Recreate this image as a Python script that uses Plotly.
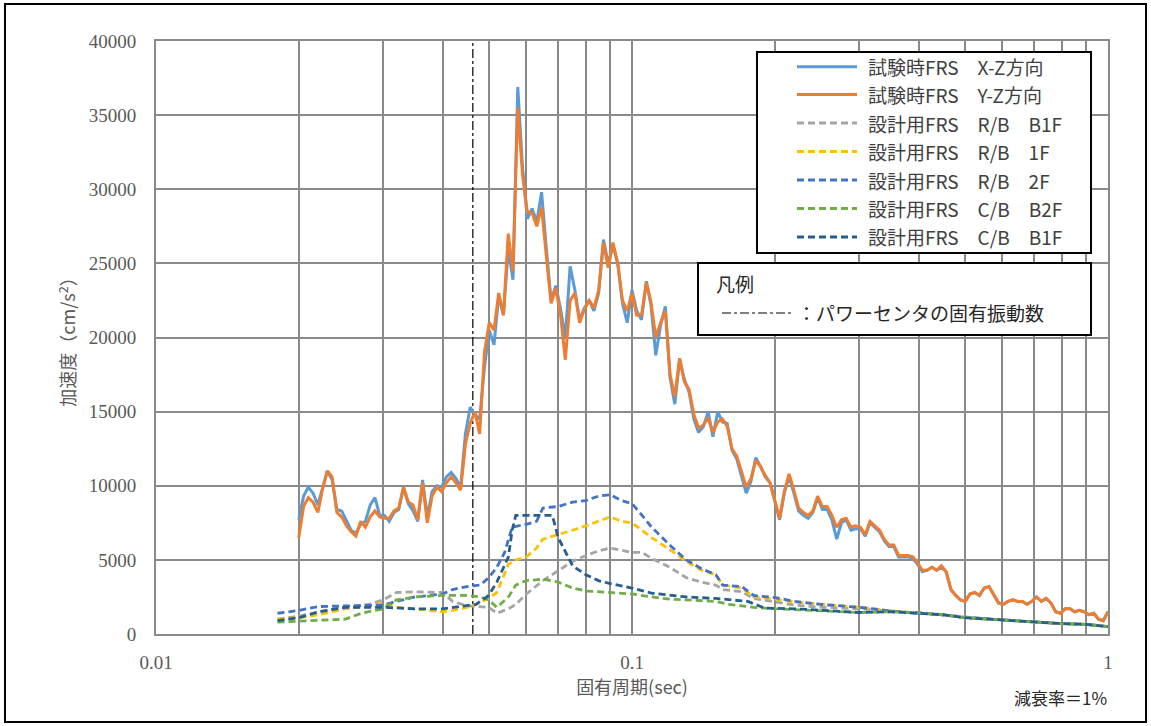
import plotly.graph_objects as go

# ---------------- data ----------------
# natural period (sec) for the test floor response spectra
period_exp = [
    0.01995, 0.02042, 0.02089, 0.02138, 0.02188, 0.02239, 0.02291, 0.02344, 0.02399, 0.02455,
    0.02512, 0.02570, 0.02630, 0.02692, 0.02754, 0.02818, 0.02884, 0.02951, 0.03020, 0.03090,
    0.03162, 0.03236, 0.03311, 0.03388, 0.03467, 0.03548, 0.03631, 0.03715, 0.03802, 0.03890,
    0.03981, 0.04074, 0.04169, 0.04266, 0.04365, 0.04467, 0.04571, 0.04677, 0.04786, 0.04898,
    0.05012, 0.05129, 0.05248, 0.05370, 0.05495, 0.05623, 0.05754, 0.05888, 0.06026, 0.06166,
    0.06310, 0.06457, 0.06607, 0.06761, 0.06918, 0.07079, 0.07244, 0.07413, 0.07586, 0.07762,
    0.07943, 0.08128, 0.08318, 0.08511, 0.08710, 0.08913, 0.09120, 0.09333, 0.09550, 0.09772,
    0.1000,
    0.1023, 0.1047, 0.1072, 0.1096, 0.1122, 0.1148, 0.1175, 0.1202, 0.1230, 0.1259,
    0.1288, 0.1318, 0.1349, 0.1380, 0.1413, 0.1445, 0.1479, 0.1514, 0.1549, 0.1585,
    0.1622, 0.1660, 0.1698, 0.1738, 0.1778, 0.1820, 0.1862, 0.1905, 0.1950, 0.1995,
    0.2042, 0.2089, 0.2138, 0.2188, 0.2239, 0.2291, 0.2344, 0.2399, 0.2455, 0.2512,
    0.2570, 0.2630, 0.2692, 0.2754, 0.2818, 0.2884, 0.2951, 0.3020, 0.3090, 0.3162,
    0.3236, 0.3311, 0.3388, 0.3467, 0.3548, 0.3631, 0.3715, 0.3802, 0.3890, 0.3981,
    0.4074, 0.4169, 0.4266, 0.4365, 0.4467, 0.4571, 0.4677, 0.4786, 0.4898, 0.5012,
    0.5129, 0.5248, 0.5370, 0.5495, 0.5623, 0.5754, 0.5888, 0.6026, 0.6166, 0.6310,
    0.6457, 0.6607, 0.6761, 0.6918, 0.7079, 0.7244, 0.7413, 0.7586, 0.7762, 0.7943,
    0.8128, 0.8318, 0.8511, 0.8710, 0.8913, 0.9120, 0.9333, 0.9550, 0.9772, 1.0000,
]

frs_xz = [
    7700, 9300, 9900, 9500, 8700, 9800, 11000, 10400, 8400, 8300,
    7600, 7000, 6800, 7400, 7600, 8700, 9200, 8000, 8000, 7600,
    8200, 8400, 9900, 8800, 8300, 7600, 10400, 7900, 9600, 10000,
    9900, 10600, 10900, 10500, 9900, 13500, 15300, 14800, 14500, 18000,
    20500, 19500, 22800, 21500, 26000, 23900, 36900, 31500, 28000, 28700,
    27800, 29800, 26000, 22500, 23500, 21900, 20000, 24800, 23200, 21200,
    22000, 22500, 21800, 23000, 26600, 25000, 26200, 25000, 22300, 21000,
    23200,
    21800, 21200, 23800, 22200, 18800, 20800, 22100, 17300, 15500, 18500,
    17200, 16300, 14500, 13600, 14000, 15000, 13300, 15000, 14300, 14200,
    12400, 11800, 10600, 9500, 10300, 11900, 11300, 10600, 10200, 9000,
    7700, 9500, 10600, 9500, 8300, 8000, 7800, 8200, 9200, 8400,
    8400, 7700, 6400, 7500, 7700, 7000, 7100, 7100, 6600, 7500,
    7200, 6900, 6300, 5900, 5900, 5200, 5200, 5200, 5100, 4700,
    4200, 4300, 4500, 4300, 4500, 4200, 3000, 2600, 2300, 2200,
    2700, 2800, 2600, 3100, 3200, 2600, 2100, 2000, 2200, 2300,
    2200, 2200, 2000, 2200, 2500, 2200, 2400, 2100, 1500, 1400,
    1700, 1700, 1500, 1600, 1500, 1300, 1400, 1000, 900, 1500,
]

frs_yz = [
    6500, 8600, 9200, 8900, 8200, 9800, 11000, 10600, 8200, 7900,
    7300, 6900, 6600, 7600, 7200, 7900, 8300, 7900, 7800, 7800,
    8300, 8500, 9900, 8900, 8700, 7700, 10200, 7500, 9300, 9900,
    9600, 10200, 10600, 10200, 9700, 12800, 14200, 15000, 13500, 19000,
    21000, 20500, 23000, 21500, 27000, 24500, 35500, 31000, 28500, 28400,
    27500, 28800, 25500, 22300, 23300, 21500, 18500, 22500, 23000, 21000,
    21900, 22500, 22000, 23200, 26400, 24700, 26400, 25000, 22500, 21800,
    23000,
    21500, 21500, 23700, 22400, 20000, 21000, 21800, 17500, 16000, 18600,
    17000, 16500, 14800, 13900, 14100, 14600, 13600, 14300, 14500, 14000,
    12500, 12000, 10900, 9900, 10500, 11700, 11300, 10700, 10200, 9100,
    7800, 9600, 10800, 9700, 8500, 8200, 8000, 8300, 9300, 8600,
    8600, 8000, 7200, 7700, 7800, 7200, 7300, 7200, 6700, 7600,
    7300, 7000, 6400, 6000, 6000, 5300, 5300, 5300, 5200, 4800,
    4300, 4300, 4500, 4300, 4600, 4200, 3000, 2600, 2300, 2200,
    2700, 2800, 2600, 3100, 3200, 2600, 2100, 2000, 2200, 2300,
    2200, 2200, 2000, 2200, 2500, 2200, 2400, 2100, 1500, 1400,
    1700, 1700, 1500, 1600, 1500, 1300, 1400, 1000, 900, 1500,
]

# design floor response spectra
period_rb_b1f = [0.018, 0.02, 0.022, 0.025, 0.028, 0.03, 0.032, 0.035, 0.04, 0.042, 0.045, 0.05,
                 0.052, 0.055, 0.057, 0.06, 0.065, 0.07, 0.075, 0.08, 0.085, 0.09, 0.1, 0.105,
                 0.11, 0.12, 0.13, 0.14, 0.15, 0.155, 0.17, 0.18, 0.2, 0.22, 0.25, 0.3, 0.35,
                 0.4, 0.45, 0.5, 0.6, 0.7, 0.8, 0.9, 1.0]
frs_rb_b1f = [1000, 1200, 1500, 1800, 2000, 2300, 2800, 2850, 2800, 2200, 1900, 1800,
              1400, 1700, 2000, 2700, 3600, 4300, 4900, 5300, 5600, 5800, 5500, 5500,
              5100, 4500, 3800, 3500, 3300, 3000, 2850, 2400, 2150, 1950, 1800, 1700, 1550,
              1400, 1300, 1150, 950, 800, 700, 650, 500]

period_rb_1f = [0.018, 0.02, 0.022, 0.025, 0.028, 0.03, 0.032, 0.035, 0.04, 0.042, 0.045, 0.047,
                0.05, 0.052, 0.055, 0.057, 0.06, 0.063, 0.065, 0.07, 0.075, 0.08, 0.085, 0.09,
                0.095, 0.1, 0.105, 0.11, 0.12, 0.13, 0.14, 0.15, 0.155, 0.17, 0.18, 0.2, 0.22,
                0.25, 0.3, 0.35, 0.4, 0.45, 0.5, 0.6, 0.7, 0.8, 0.9, 1.0]
frs_rb_1f = [1000, 1100, 1300, 1700, 1900, 2100, 1800, 1700, 1500, 1600, 1800, 2000,
             2400, 2800, 4700, 5000, 5200, 5800, 6400, 6700, 7000, 7300, 7600, 7900,
             7600, 7500, 7000, 6500, 5700, 4900, 4300, 4000, 3300, 3100, 2500, 2350, 2150,
             2000, 1800, 1550, 1400, 1300, 1100, 950, 800, 700, 650, 500]

period_rb_2f = [0.018, 0.02, 0.022, 0.025, 0.03, 0.032, 0.035, 0.04, 0.042, 0.045, 0.048, 0.05,
                0.052, 0.054, 0.056, 0.06, 0.063, 0.065, 0.07, 0.075, 0.08, 0.085, 0.09, 0.095,
                0.1, 0.105, 0.11, 0.12, 0.13, 0.14, 0.15, 0.155, 0.17, 0.18, 0.2, 0.22, 0.25,
                0.3, 0.35, 0.4, 0.45, 0.5, 0.6, 0.7, 0.8, 0.9, 1.0]
frs_rb_2f = [1400, 1600, 1850, 1900, 1950, 2200, 2500, 2700, 3000, 3200, 3300, 3800,
             4500, 5500, 7200, 7400, 7600, 8500, 8600, 8900, 9000, 9300, 9400, 9000,
             8800, 8000, 7200, 6000, 5000, 4400, 4000, 3300, 3200, 2600, 2450, 2200, 2000,
             1800, 1550, 1400, 1300, 1100, 950, 800, 700, 650, 500]

period_cb_b2f = [0.018, 0.02, 0.022, 0.025, 0.027, 0.03, 0.032, 0.035, 0.04, 0.045, 0.048, 0.05,
                 0.052, 0.055, 0.057, 0.06, 0.065, 0.07, 0.075, 0.08, 0.09, 0.1, 0.11, 0.12,
                 0.13, 0.14, 0.15, 0.16, 0.18, 0.2, 0.25, 0.3, 0.35, 0.4, 0.45, 0.5, 0.6, 0.7,
                 0.8, 0.9, 1.0]
frs_cb_b2f = [800, 850, 900, 1000, 1400, 1700, 2300, 2500, 2600, 2600, 2500, 2300,
              1800, 2500, 3300, 3600, 3700, 3500, 3100, 2900, 2800, 2700, 2500, 2350,
              2300, 2250, 2200, 2000, 1800, 1700, 1550, 1450, 1500, 1450, 1300, 1100, 950, 800,
              700, 650, 500]

period_cb_b1f = [0.018, 0.02, 0.022, 0.025, 0.03, 0.035, 0.04, 0.045, 0.047, 0.05, 0.052, 0.055,
                 0.056, 0.057, 0.068, 0.07, 0.073, 0.075, 0.08, 0.085, 0.09, 0.1, 0.11, 0.12,
                 0.13, 0.15, 0.16, 0.175, 0.19, 0.22, 0.25, 0.3, 0.35, 0.4, 0.45, 0.5, 0.6,
                 0.7, 0.8, 0.9, 1.0]
frs_cb_b1f = [900, 1100, 1500, 1800, 1800, 1700, 1700, 1900, 2000, 2600, 3500, 5200,
              7000, 8000, 8000, 6500, 5300, 4600, 4000, 3600, 3400, 3100, 2750, 2600,
              2500, 2400, 2300, 2200, 1750, 1700, 1600, 1450, 1500, 1400, 1300, 1100, 950,
              800, 700, 650, 500]

power_center_period = 0.0463

x_tick_vals = [0.01, 0.1, 1]
x_tick_text = ["0.01", "0.1", "1"]
x_minor_vals = [0.02, 0.03, 0.04, 0.05, 0.06, 0.07, 0.08, 0.09,
                0.2, 0.3, 0.4, 0.5, 0.6, 0.7, 0.8, 0.9]
y_tick_vals = [0, 5000, 10000, 15000, 20000, 25000, 30000, 35000, 40000]
y_tick_text = ["0", "5000", "10000", "15000", "20000", "25000", "30000", "35000", "40000"]

series_names = [
    "試験時FRS　X-Z方向",
    "試験時FRS　Y-Z方向",
    "設計用FRS　R/B　B1F",
    "設計用FRS　R/B　1F",
    "設計用FRS　R/B　2F",
    "設計用FRS　C/B　B2F",
    "設計用FRS　C/B　B1F",
]
series_colors = ["#5B9BD5", "#ED7D31", "#A5A5A5", "#FFC000", "#4472C4", "#70AD47", "#255E91"]

# ---------------- figure ----------------
JP = "Noto Sans CJK JP"
NUM = "Liberation Serif"
GRID = "#8a8a8a"
TXT = "#595959"
DASH = "7px,4px"

fig = go.Figure()

fig.add_trace(go.Scatter(x=[power_center_period, power_center_period], y=[0, 40000],
                         mode="lines", line=dict(color="black", width=1.2, dash="dashdot"),
                         showlegend=False, hoverinfo="skip"))

fig.add_trace(go.Scatter(x=period_exp, y=frs_xz, mode="lines", name=series_names[0],
                         line=dict(color=series_colors[0], width=3)))
fig.add_trace(go.Scatter(x=period_exp, y=frs_yz, mode="lines", name=series_names[1],
                         line=dict(color=series_colors[1], width=3)))

design = [
    (period_rb_b1f, frs_rb_b1f),
    (period_rb_1f, frs_rb_1f),
    (period_rb_2f, frs_rb_2f),
    (period_cb_b2f, frs_cb_b2f),
    (period_cb_b1f, frs_cb_b1f),
]
for i, (px, py) in enumerate(design):
    fig.add_trace(go.Scatter(x=px, y=py, mode="lines", name=series_names[i + 2],
                             line=dict(color=series_colors[i + 2], width=2.8, dash=DASH)))

# ---- legend boxes (drawn in paper coordinates) ----
L = 156; T = 41; W = 952; H = 593
def pxx(v):
    return (v - L) / W
def pxy(v):
    return (T + H - v) / H

shapes = []
annotations = []

# main legend box
shapes.append(dict(type="rect", xref="paper", yref="paper",
                   x0=pxx(757), x1=pxx(1091), y0=pxy(253), y1=pxy(52),
                   line=dict(color="black", width=2), fillcolor="white", layer="above"))
row_y = [66.7, 94.5, 123.0, 151.5, 180.0, 208.5, 237.0]
for i, name in enumerate(series_names):
    yy = pxy(row_y[i])
    shapes.append(dict(type="line", xref="paper", yref="paper",
                       x0=pxx(797), x1=pxx(857), y0=yy, y1=yy, layer="above",
                       line=dict(color=series_colors[i], width=3 if i < 2 else 2.8,
                                 dash="solid" if i < 2 else DASH)))
    annotations.append(dict(xref="paper", yref="paper", x=pxx(866), y=yy,
                            xanchor="left", yanchor="middle", showarrow=False,
                            text=name, font=dict(family=JP, size=19, color="#404040")))

# second legend box
shapes.append(dict(type="rect", xref="paper", yref="paper",
                   x0=pxx(698), x1=pxx(1091), y0=pxy(335), y1=pxy(263),
                   line=dict(color="black", width=2), fillcolor="white", layer="above"))
annotations.append(dict(xref="paper", yref="paper", x=pxx(714), y=pxy(283),
                        xanchor="left", yanchor="middle", showarrow=False,
                        text="凡例", font=dict(family=JP, size=19, color="#262626")))
shapes.append(dict(type="line", xref="paper", yref="paper",
                   x0=pxx(722), x1=pxx(792), y0=pxy(313), y1=pxy(313), layer="above",
                   line=dict(color="black", width=1.2, dash="dashdot")))
annotations.append(dict(xref="paper", yref="paper", x=pxx(795), y=pxy(313),
                        xanchor="left", yanchor="middle", showarrow=False,
                        text="：パワーセンタの固有振動数",
                        font=dict(family=JP, size=19, color="#262626")))

# damping note
annotations.append(dict(xref="paper", yref="paper", x=pxx(1060), y=pxy(698),
                        xanchor="center", yanchor="middle", showarrow=False,
                        text="減衰率＝1%", font=dict(family=JP, size=17, color="#262626")))

# outer frame
shapes.append(dict(type="rect", xref="paper", yref="paper",
                   x0=pxx(5), x1=pxx(1146), y0=pxy(722), y1=pxy(4),
                   line=dict(color="black", width=2), layer="above"))

fig.update_layout(
    width=1151, height=726,
    margin=dict(l=156, r=43, t=41, b=92),
    paper_bgcolor="white", plot_bgcolor="white",
    showlegend=False,
    shapes=shapes, annotations=annotations,
    xaxis=dict(
        type="log", range=[-2, 0],
        tickvals=x_tick_vals, ticktext=x_tick_text,
        showgrid=True, gridcolor=GRID, gridwidth=2,
        minor=dict(tickvals=x_minor_vals, showgrid=True, gridcolor=GRID, gridwidth=2),
        showline=True, linecolor=GRID, linewidth=2, mirror=True,
        zeroline=False, ticks="",
        tickfont=dict(family=NUM, size=19, color=TXT),
        ticklabelstandoff=10,
        title=dict(text="固有周期(sec)", font=dict(family=JP, size=18, color=TXT), standoff=6),
    ),
    yaxis=dict(
        range=[0, 40000], tickvals=y_tick_vals, ticktext=y_tick_text,
        showgrid=True, gridcolor=GRID, gridwidth=2,
        showline=True, linecolor=GRID, linewidth=2, mirror=True,
        zeroline=False, ticks="",
        tickfont=dict(family=NUM, size=19, color=TXT),
        ticklabelstandoff=14,
        title=dict(text="加速度（cm/s<sup>2</sup>）", font=dict(family=JP, size=18, color=TXT), standoff=8),
    ),
)

# remove the default 8px page margin so the figure sits at the window origin
fig.write_html("out.html", config={"displayModeBar": False},
               post_script="document.body.style.margin='0';document.body.style.overflow='hidden';")
